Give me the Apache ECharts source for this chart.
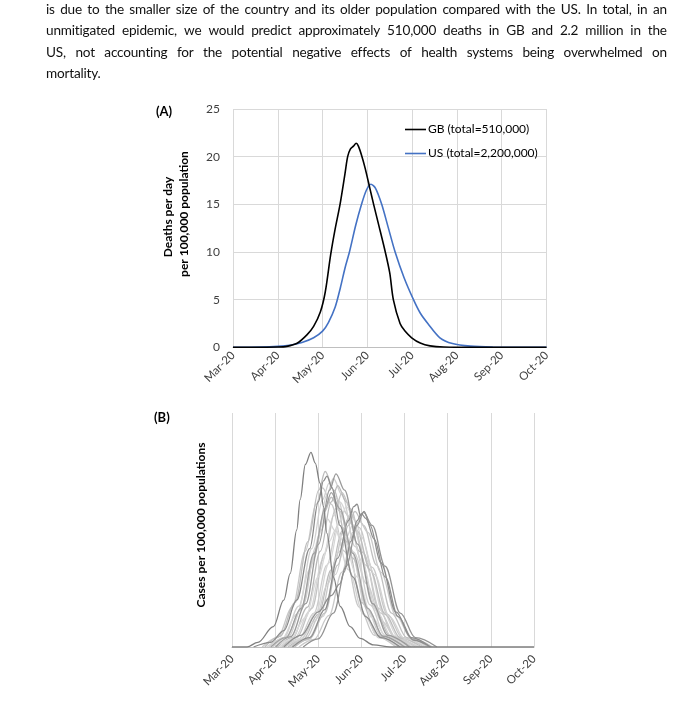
<!DOCTYPE html>
<html><head><meta charset="utf-8">
<script src="https://cdn.jsdelivr.net/npm/echarts@6/dist/echarts.min.js"></script>
<style>
html,body{margin:0;padding:0;background:#fff;}
#wrap{position:relative;width:700px;height:703px;overflow:hidden;}
#chart{position:absolute;left:0;top:0;width:700px;height:703px;}
#para{position:absolute;left:46px;top:-1px;width:621px;font-family:Lato,'Open Sans',sans-serif;font-size:13.6px;letter-spacing:-0.2px;color:#111;}
.ln{display:flex;justify-content:space-between;height:21.3px;line-height:21.3px;white-space:nowrap;}
.ln.last{justify-content:flex-start;}
</style></head><body>
<div id="wrap"><div id="chart"></div><div id="para"></div></div>
<script>
const paragraphLines = [
  'is due to the smaller size of the country and its older population compared with the US. In total, in an',
  'unmitigated epidemic, we would predict approximately 510,000 deaths in GB and 2.2 million in the',
  'US, not accounting for the potential negative effects of health systems being overwhelmed on',
  'mortality.'
];
const monthLabels = ['Mar-20','Apr-20','May-20','Jun-20','Jul-20','Aug-20','Sep-20','Oct-20'];
const legendNames = ['GB (total=510,000)', 'US (total=2,200,000)'];
// x = months since 1 Mar 2020, y = deaths per day per 100,000
const gbDeaths = [[0,0],[0.5,0.01],[1.0,0.03],[1.2,0.1],[1.43,0.42],[1.65,1.3],[1.80,2.2],[1.95,3.7],[2.06,5.8],[2.18,9.7],[2.28,12.4],[2.39,15],[2.50,18.2],[2.56,20],[2.62,20.8],[2.69,21.1],[2.75,21.4],[2.80,21.1],[2.88,20],[2.95,18.8],[3.06,16.6],[3.14,15],[3.25,12.9],[3.40,10],[3.50,7.8],[3.58,5],[3.73,2.5],[3.84,1.7],[3.99,1.0],[4.18,0.45],[4.40,0.15],[4.70,0.03],[5.5,0],[7,0]];
const usDeaths = [[0,0],[0.6,0.02],[1.0,0.1],[1.3,0.25],[1.54,0.5],[1.80,1.0],[2.0,1.7],[2.13,2.6],[2.28,4.2],[2.40,6.3],[2.50,8.3],[2.60,10],[2.74,12.8],[2.87,15],[2.98,16.5],[3.08,17.1],[3.18,16.7],[3.32,15],[3.47,12.5],[3.62,10],[3.82,7.3],[4.03,5],[4.18,3.6],[4.35,2.5],[4.62,1.0],[4.9,0.4],[5.3,0.12],[5.8,0.03],[7,0]];
// panel B: cases per 100,000 (relative scale 0-100), one array per region
const regionCurves = [
  [[0.70,0],[1.05,4],[1.40,17],[1.70,41],[1.95,61],[2.10,68],[2.30,61],[2.60,41],[2.95,17],[3.30,5],[3.80,0]],
  [[0.76,0],[1.11,4.5],[1.46,19],[1.76,45],[2.01,67],[2.16,75],[2.36,67],[2.66,45],[3.01,19],[3.36,5],[3.86,0]],
  [[0.85,0],[1.20,4],[1.55,17.5],[1.85,42],[2.10,63],[2.25,70],[2.45,63],[2.75,42],[3.10,17.5],[3.45,5],[3.95,0]],
  [[0.90,0],[1.25,4],[1.60,16],[1.90,38],[2.15,58],[2.30,64],[2.50,58],[2.80,38],[3.15,16],[3.50,4.5],[4.00,0]],
  [[0.95,0],[1.30,4.3],[1.65,18],[1.95,43],[2.20,65],[2.35,72],[2.55,65],[2.85,43],[3.20,18],[3.55,5],[4.05,0]],
  [[1.05,0],[1.40,4],[1.75,17],[2.05,41],[2.30,62],[2.45,69],[2.65,62],[2.95,41],[3.30,17],[3.65,5],[4.15,0]],
  [[1.10,0],[1.45,3.7],[1.80,15.5],[2.10,37],[2.35,56],[2.50,62],[2.70,56],[3.00,37],[3.35,15.5],[3.70,4.3],[4.20,0]],
  [[1.15,0],[1.50,4],[1.85,16.5],[2.15,40],[2.40,59],[2.55,66],[2.75,59],[3.05,40],[3.40,16.5],[3.75,4.6],[4.25,0]],
  [[1.20,0],[1.55,3.5],[1.90,14.5],[2.20,35],[2.45,52],[2.60,58],[2.80,52],[3.10,35],[3.45,14.5],[3.80,4],[4.30,0]],
  [[1.25,0],[1.60,3.6],[1.95,15],[2.25,36],[2.50,54],[2.65,60],[2.85,54],[3.15,36],[3.50,15],[3.85,4.2],[4.35,0]],
  [[1.30,0],[1.65,3.3],[2.00,14],[2.30,33],[2.55,49.5],[2.70,55],[2.90,49.5],[3.20,33],[3.55,14],[3.90,3.9],[4.40,0]],
  [[1.35,0],[1.70,3.4],[2.05,14],[2.35,34],[2.60,51],[2.75,57],[2.95,51],[3.25,34],[3.60,14],[3.95,4],[4.45,0]],
  [[1.40,0],[1.75,3.1],[2.10,13],[2.40,31],[2.65,47],[2.80,52],[3.00,47],[3.30,31],[3.65,13],[4.00,3.6],[4.50,0]],
  [[1.45,0],[1.80,3.5],[2.15,14.5],[2.45,35],[2.70,52],[2.85,58],[3.05,52],[3.35,35],[3.70,14.5],[4.05,4],[4.55,0]],
  [[1.55,0],[1.90,3.2],[2.25,13.5],[2.55,32],[2.80,49],[2.95,54],[3.15,49],[3.45,32],[3.80,13.5],[4.15,3.8],[4.65,0]],
  [[1.00,0],[1.35,3],[1.70,12.5],[2.00,30],[2.25,45],[2.40,50],[2.60,45],[2.90,30],[3.25,12.5],[3.60,3.5],[4.10,0]],
  [[0.80,0],[1.15,3.3],[1.50,14],[1.80,33],[2.05,49.5],[2.20,55],[2.40,49.5],[2.70,33],[3.05,14],[3.40,3.9],[3.90,0]],
  [[1.22,0],[1.57,2.7],[1.92,11],[2.22,27],[2.47,40.5],[2.62,45],[2.82,40.5],[3.12,27],[3.47,11],[3.82,3.2],[4.32,0]],
  [[1.01,0],[1.36,4.4],[1.71,18.5],[2.01,44],[2.26,67],[2.41,74],[2.61,67],[2.91,44],[3.26,18.5],[3.61,5],[4.11,0]],
  [[1.4,0],[1.8,4],[2.15,16],[2.45,38],[2.7,54],[2.82,60],[2.9,61],[2.98,56],[3.06,58],[3.2,52],[3.45,36],[3.8,15],[4.15,4],[4.6,0]],
  [[1.65,0],[2.00,3.5],[2.35,14.5],[2.65,34.5],[2.90,52],[3.05,57.5],[3.25,52],[3.55,34.5],[3.90,14.5],[4.25,4],[4.75,0]],
  [[1.2,0],[1.6,5],[2.0,15],[2.3,22],[2.5,27],[2.6,32],[2.75,45],[2.9,54],[3.0,57],[3.1,55],[3.3,46],[3.55,30],[3.85,13],[4.2,3],[4.6,0]],
  [[0.90,0],[1.25,4],[1.60,16.5],[1.90,40],[2.15,59],[2.30,66],[2.50,59],[2.80,40],[3.15,16.5],[3.50,4.6],[4.00,0]],
  [[0.5,0],[0.9,2],[1.2,7],[1.5,20],[1.8,42],[2.0,62],[2.12,71],[2.2,73],[2.32,68],[2.5,52],[2.8,30],[3.1,13],[3.45,4],[3.9,0]],
  [[0,0],[0.35,0],[0.6,2],[0.96,8.7],[1.2,20],[1.35,31.5],[1.5,50],[1.58,63],[1.70,78],[1.83,83.2],[1.93,78.6],[2.04,70],[2.12,60],[2.20,48.6],[2.35,30],[2.51,17.3],[2.74,8.7],[2.97,3.7],[3.28,0.9],[3.66,0],[7,0]]
];
const regionColors = ['#c8c8c8','#bdbdbd','#d0d0d0','#c0c0c0','#cfcfcf','#b8b8b8','#d5d5d5','#c4c4c4','#cccccc','#d8d8d8','#bcbcbc','#c8c8c8','#d2d2d2','#c0c0c0','#cacaca','#dadada','#d4d4d4','#cfcfcf','#9a9a9a','#8c8c8c','#939393','#8e8e8e','#a0a0a0','#8a8a8a','#7f7f7f'];

// paragraph
const para = document.getElementById('para');
paragraphLines.forEach((line, i) => {
  const d = document.createElement('div');
  d.className = 'ln' + (i === paragraphLines.length - 1 ? ' last' : '');
  line.split(' ').forEach((w, j) => {
    const s = document.createElement('span');
    s.textContent = w;
    if (i === paragraphLines.length - 1 && j > 0) s.style.marginLeft = '0.25em';
    d.appendChild(s);
  });
  para.appendChild(d);
});

const FONT = 'Lato, "Open Sans", sans-serif';
const chart = echarts.init(document.getElementById('chart'), null, {renderer: 'canvas'});
const monthFmt = v => monthLabels[Math.round(v)] || '';

const series = [
  {name: legendNames[0], type: 'line', xAxisIndex: 0, yAxisIndex: 0, data: gbDeaths, smooth: 0.3, symbol: 'none', lineStyle: {color: '#000', width: 1.6}, itemStyle: {color: '#000'}, z: 3},
  {name: legendNames[1], type: 'line', xAxisIndex: 0, yAxisIndex: 0, data: usDeaths, smooth: 0.3, symbol: 'none', lineStyle: {color: '#4472c4', width: 1.6}, itemStyle: {color: '#4472c4'}, z: 2}
];
regionCurves.forEach((c, i) => {
  series.push({name: 'region' + i, type: 'line', xAxisIndex: 1, yAxisIndex: 1, data: c, smooth: 0.35, smoothMonotone: 'x', symbol: 'none', silent: true,
    lineStyle: {color: regionColors[i], width: 1.3}, itemStyle: {color: regionColors[i]}});
});

chart.setOption({
  animation: false,
  textStyle: {fontFamily: FONT},
  grid: [
    {left: 233, right: 153.5, top: 109, bottom: 355.7},
    {left: 232, right: 166, top: 413, bottom: 56}
  ],
  legend: {
    data: [
      {name: legendNames[0], icon: 'rect', itemStyle: {color: '#000'}},
      {name: legendNames[1], icon: 'rect', itemStyle: {color: '#4472c4'}}
    ],
    orient: 'vertical', left: 400, top: 117, itemWidth: 21, itemHeight: 1.6, itemGap: 9,
    textStyle: {fontFamily: FONT, fontSize: 12, color: '#000', padding: [0,0,0,-3], lineHeight: 15}
  },
  xAxis: [
    {type: 'value', gridIndex: 0, min: 0, max: 7, interval: 1,
      axisLine: {show: true, lineStyle: {color: '#bfbfbf'}}, axisTick: {show: false},
      axisLabel: {formatter: monthFmt, rotate: 45, margin: 6, fontSize: 11.5, color: '#404040', fontFamily: FONT},
      splitLine: {show: true, lineStyle: {color: '#d9d9d9'}}},
    {type: 'value', gridIndex: 1, min: 0, max: 7, interval: 1,
      axisLine: {show: true, lineStyle: {color: '#bfbfbf'}}, axisTick: {show: false},
      axisLabel: {formatter: monthFmt, rotate: 45, margin: 10, fontSize: 11.5, color: '#404040', fontFamily: FONT},
      splitLine: {show: true, lineStyle: {color: '#d9d9d9'}}}
  ],
  yAxis: [
    {type: 'value', gridIndex: 0, min: 0, max: 25, interval: 5,
      axisLine: {show: false}, axisTick: {show: false},
      axisLabel: {margin: 13, fontSize: 12, color: '#404040', fontFamily: FONT},
      splitLine: {show: true, lineStyle: {color: '#d9d9d9'}}},
    {type: 'value', gridIndex: 1, min: 0, max: 100,
      axisLine: {show: false}, axisTick: {show: false}, axisLabel: {show: false}, splitLine: {show: false}}
  ],
  graphic: [
    {type: 'text', left: 156, top: 105, style: {text: '(A)', font: 'bold 13px ' + FONT, fill: '#000'}},
    {type: 'text', left: 154, top: 411, style: {text: '(B)', font: 'bold 13px ' + FONT, fill: '#000'}},
    {type: 'text', x: 168, y: 217, rotation: Math.PI / 2, style: {text: 'Deaths per day', font: 'bold 12px ' + FONT, fill: '#000', align: 'center', verticalAlign: 'middle'}},
    {type: 'text', x: 184, y: 214, rotation: Math.PI / 2, style: {text: 'per 100,000 population', font: 'bold 12px ' + FONT, fill: '#000', align: 'center', verticalAlign: 'middle'}},
    {type: 'text', x: 201, y: 525, rotation: Math.PI / 2, style: {text: 'Cases per 100,000 populations', font: 'bold 12px ' + FONT, fill: '#000', align: 'center', verticalAlign: 'middle'}}
  ],
  series: series
});
</script>
</body></html>
